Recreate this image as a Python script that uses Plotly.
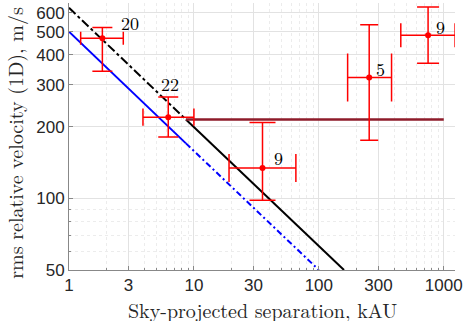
import numpy as np
import plotly.graph_objects as go

# binned pairs: separation (kAU) and rms 1D relative velocity (m/s)
sep = [1.85, 6.23, 35.4, 253, 749]
sep_lo = [1.24, 3.91, 19.1, 170, 453]
sep_hi = [2.72, 10.0, 65.5, 382, 1232]
vel = [470, 219, 134, 321, 483]
vel_lo = [341, 181, 98, 175, 369]
vel_hi = [521, 266, 208, 535, 635]
n_pairs = ["20", "22", "9", "5", "9"]

# Newtonian expectations (straight in log-log)
newton_hi_x = [1, 8.63, 159]
newton_hi_y = [630, 214, 50]
newton_lo_x = [1, 8.63, 100]
newton_lo_y = [500, 170, 50]

# flat level beyond the cut
flat_x = [8.63, 1000]
flat_y = [214, 214]
sep_cut = 8.63

# styling
cap_y = [10, 10, 13, 9, 11]
cap_x = [6.5, 8.7, 14, 24, 12]
label_shift = [(28, 16), (2, 34), (16, 10), (11, 9), (12, 9)]

SERIF = "Latin Modern Roman, Liberation Serif, serif"
SANS = "Liberation Sans, Arial, sans-serif"

fig = go.Figure()

# black: dash-dot before the cut, solid after
fig.add_trace(go.Scatter(x=newton_hi_x[:2], y=newton_hi_y[:2], mode="lines",
                         line=dict(color="black", width=2, dash="dashdot")))
fig.add_trace(go.Scatter(x=newton_hi_x[1:], y=newton_hi_y[1:], mode="lines",
                         line=dict(color="black", width=2)))
# blue: solid before the cut, dash-dot after
fig.add_trace(go.Scatter(x=newton_lo_x[:2], y=newton_lo_y[:2], mode="lines",
                         line=dict(color="#0000ff", width=2)))
fig.add_trace(go.Scatter(x=newton_lo_x[1:], y=newton_lo_y[1:], mode="lines",
                         line=dict(color="#0000ff", width=2, dash="6px,3px,2px,3px")))

fig.add_trace(go.Scatter(x=flat_x, y=flat_y, mode="lines",
                         line=dict(color="#8e1b2a", width=2.5)))

fig.add_vline(x=np.log10(sep_cut), line=dict(color="#ff00ff", width=2, dash="8px,4px"))

for i in range(len(sep)):
    fig.add_trace(go.Scatter(
        x=[sep[i]], y=[vel[i]], mode="markers",
        marker=dict(color="#ff0000", size=6),
        error_x=dict(type="data", symmetric=False,
                     array=[sep_hi[i] - sep[i]], arrayminus=[sep[i] - sep_lo[i]],
                     color="#ff0000", thickness=1.5, width=cap_x[i]),
        error_y=dict(type="data", symmetric=False,
                     array=[vel_hi[i] - vel[i]], arrayminus=[vel[i] - vel_lo[i]],
                     color="#ff0000", thickness=1.5, width=cap_y[i]),
    ))
    dx, dy = label_shift[i]
    fig.add_annotation(x=np.log10(sep[i]), y=np.log10(vel[i]), text=n_pairs[i],
                       showarrow=False, xshift=dx, yshift=dy,
                       font=dict(family=SERIF, size=18, color="black"))

# axis titles placed by hand to match the original spacing
fig.add_annotation(xref="paper", yref="paper", x=-0.14, y=0.476,
                   xanchor="center", yanchor="middle", textangle=-90,
                   text="rms relative velocity (1D), m/s", showarrow=False,
                   font=dict(family=SERIF, size=20, color="#262626"))
fig.add_annotation(xref="paper", yref="paper", x=0.5, y=-0.09,
                   xanchor="center", yanchor="top", borderpad=0,
                   text="Sky-projected separation, kAU", showarrow=False,
                   font=dict(family=SERIF, size=20, color="#262626"))

x_minor = [v * d for d in (1, 10, 100) for v in range(2, 10) if v != 3]
y_minor = [60, 70, 80, 90]

fig.update_layout(
    width=464, height=321,
    margin=dict(l=69, r=9, t=3, b=51),
    plot_bgcolor="white", paper_bgcolor="white",
    showlegend=False,
    xaxis=dict(
        type="log", range=[0, 3.09], automargin=False,
        tickvals=[1, 3, 10, 30, 100, 300, 1000],
        ticktext=["1", "3", "10", "30", "100", "300", "1000"],
        showgrid=True, gridcolor="#e2e2e2", gridwidth=1,
        ticks="inside", ticklen=4, tickcolor="#888888",
        showline=True, linecolor="#888888", linewidth=1,
        zeroline=False,
        tickfont=dict(family=SANS, size=17, color="#262626"),
        minor=dict(tickmode="array", tickvals=x_minor, showgrid=True,
                   gridcolor="#ececec", griddash="dot", ticks="inside",
                   ticklen=2, tickcolor="#888888"),
    ),
    yaxis=dict(
        type="log", range=[np.log10(50), np.log10(660)], automargin=False,
        tickvals=[50, 100, 200, 300, 400, 500, 600],
        ticktext=["50", "100", "200", "300", "400", "500", "600"],
        showgrid=True, gridcolor="#e2e2e2", gridwidth=1,
        ticks="inside", ticklen=4, tickcolor="#888888",
        showline=True, linecolor="#888888", linewidth=1,
        zeroline=False,
        tickfont=dict(family=SANS, size=17, color="#262626"),
        minor=dict(tickmode="array", tickvals=y_minor, showgrid=True,
                   gridcolor="#ececec", griddash="dot", ticks="inside",
                   ticklen=2, tickcolor="#888888"),
    ),
)

fig.write_html("out.html", config={"displayModeBar": False},
               post_script="document.body.style.margin='0';")
